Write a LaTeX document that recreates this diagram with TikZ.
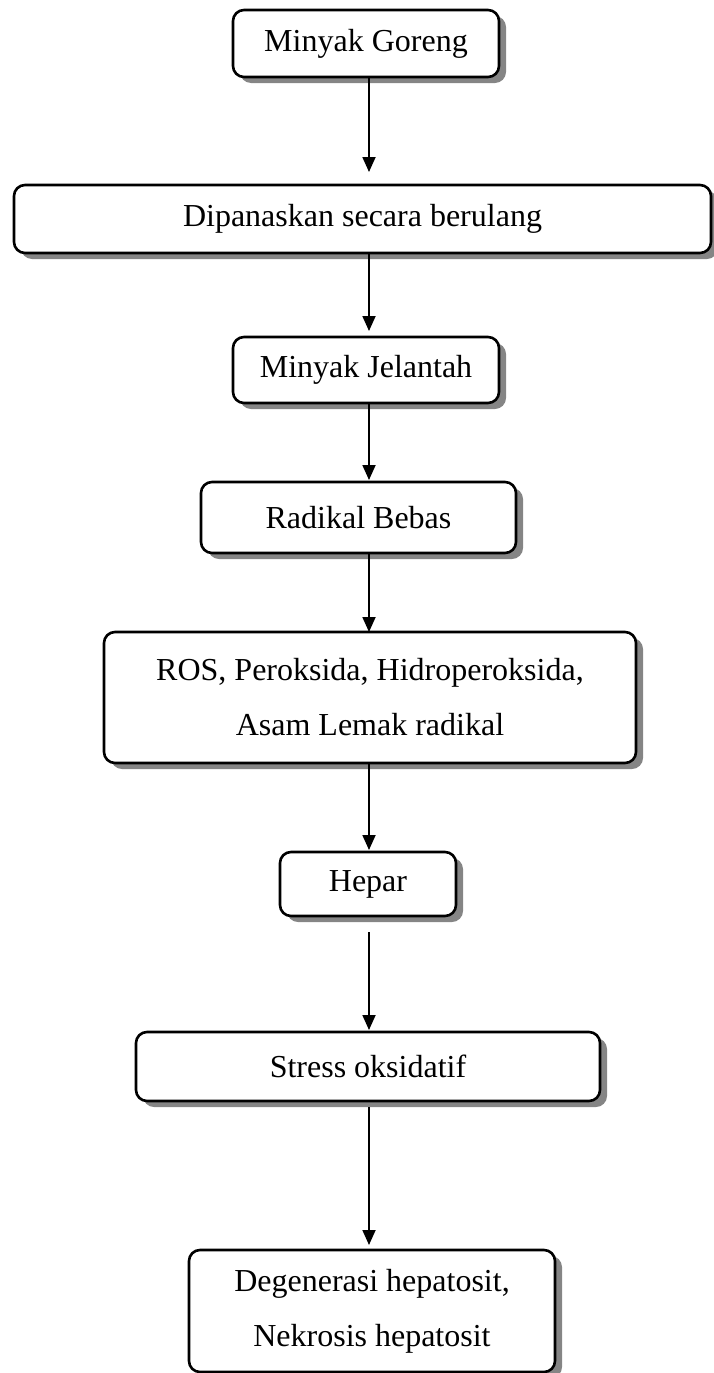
\documentclass[tikz,border=0pt]{standalone}
\usepackage{fontspec}
\setmainfont{Liberation Serif}
\usetikzlibrary{arrows.meta,shadows,calc}
\begin{document}
\begin{tikzpicture}[x=1pt,y=-1pt,
  box/.style={draw=black, line width=2.6pt, rounded corners=11pt, fill=white,
    inner sep=0pt, outer sep=0pt, align=center,
    font=\fontsize{32}{55}\selectfont,
    drop shadow={shadow xshift=7pt, shadow yshift=-6pt, fill=black!48, opacity=1}},
  arr/.style={line width=1.8pt, -{Triangle[length=15pt,width=13pt]}}]
\useasboundingbox (0,0) rectangle (713,1373);
\coordinate (ax) at (369,0);
\node[box, minimum width=266pt, minimum height=67pt] (n1) at (366,43.5) {Minyak Goreng};
\node[box, minimum width=697pt, minimum height=68pt] (n2) at (362.5,219) {Dipanaskan secara berulang};
\node[box, minimum width=266pt, minimum height=66pt] (n3) at (366,370) {Minyak Jelantah};
\node[box, minimum width=315pt, minimum height=71pt] (n4) at (358.5,517.5) {Radikal Bebas};
\node[box, minimum width=532pt, minimum height=131pt] (n5) at (370,697.5) {ROS, Peroksida, Hidroperoksida,\\Asam Lemak radikal};
\node[box, minimum width=176pt, minimum height=64pt] (n6) at (368,884) {Hepar};
\node[box, minimum width=464pt, minimum height=69pt] (n7) at (368,1066.5) {Stress oksidatif};
\node[box, minimum width=366pt, minimum height=122pt] (n8) at (372,1311) {Degenerasi hepatosit,\\Nekrosis hepatosit};
\draw[arr, shorten >=13pt] (n1.south -| ax) -- (n2.north -| ax);
\draw[arr, shorten >=6pt] (n2.south -| ax) -- (n3.north -| ax);
\draw[arr, shorten >=2pt] (n3.south -| ax) -- (n4.north -| ax);
\draw[arr] (n4.south -| ax) -- (n5.north -| ax);
\draw[arr, shorten >=2pt] (n5.south -| ax) -- (n6.north -| ax);
\draw[arr, shorten <=16pt, shorten >=2pt] (n6.south -| ax) -- (n7.north -| ax);
\draw[arr, shorten <=6pt, shorten >=5pt] (n7.south -| ax) -- (n8.north -| ax);
\end{tikzpicture}
\end{document}
